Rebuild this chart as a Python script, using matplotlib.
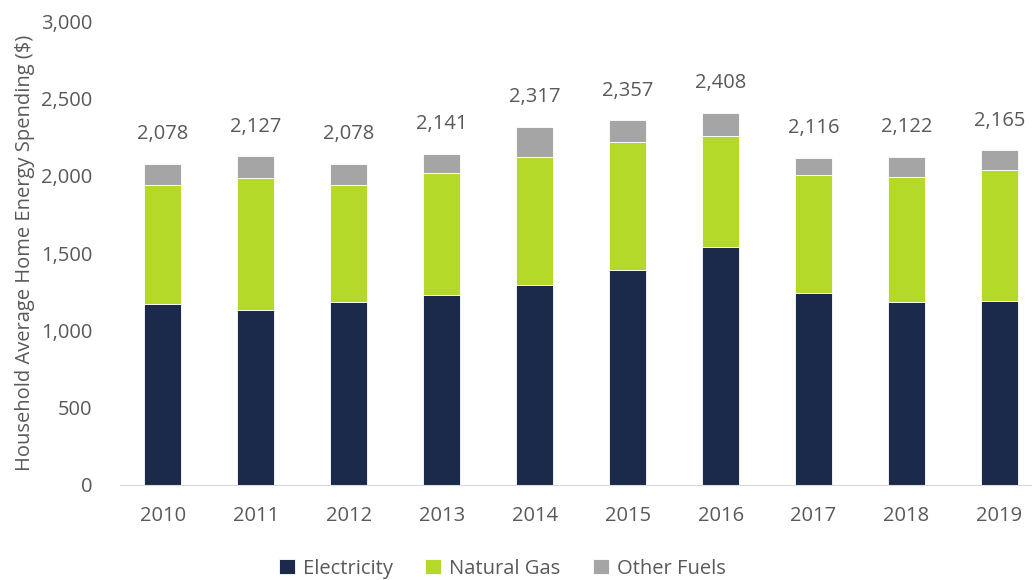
import matplotlib
matplotlib.use("Agg")
import matplotlib.pyplot as plt
from matplotlib.ticker import FuncFormatter

years = ["2010", "2011", "2012", "2013", "2014", "2015", "2016", "2017", "2018", "2019"]
electricity = [1170, 1131, 1183, 1228, 1293, 1390, 1539, 1243, 1185, 1192]
natural_gas = [770, 856, 757, 791, 826, 826, 719, 759, 804, 845]
other_fuels = [138, 140, 138, 122, 198, 141, 150, 114, 133, 128]
totals = [2078, 2127, 2078, 2141, 2317, 2357, 2408, 2116, 2122, 2165]

plt.rcParams['font.family'] = ['Open Sans', 'DejaVu Sans']
text_col = '#595959'
fs = 14.5

fig = plt.figure(figsize=(10.32, 5.8), dpi=100)
ax = fig.add_axes([120 / 1032, 95 / 580, 912 / 1032, 464 / 580])

x = list(range(len(years)))
w = 0.4
gas_base = electricity
other_base = [e + g for e, g in zip(electricity, natural_gas)]

ax.bar(x, electricity, w, color='#1B2A4A', edgecolor='white', linewidth=0.6, label='Electricity')
ax.bar(x, natural_gas, w, bottom=gas_base, color='#B5D928', edgecolor='white', linewidth=0.6, label='Natural Gas')
ax.bar(x, other_fuels, w, bottom=other_base, color='#A5A5A5', edgecolor='white', linewidth=0.6, label='Other Fuels')

# totals above each stack
for xi, t, top in zip(x, totals, [b + o for b, o in zip(other_base, other_fuels)]):
    ax.annotate(f"{t:,}", (xi, top), xytext=(0, 14), textcoords='offset points',
                ha='center', va='bottom', fontsize=fs, color=text_col)

ax.set_xlim(-0.46, 9.35)
ax.set_ylim(0, 3000)
ax.set_yticks(range(0, 3001, 500))
ax.yaxis.set_major_formatter(FuncFormatter(lambda v, p: f"{int(v):,}"))
ax.set_xticks(x)
ax.set_xticklabels(years)
ax.tick_params(axis='both', length=0, labelsize=fs, colors=text_col)
ax.tick_params(axis='x', pad=15)
ax.tick_params(axis='y', pad=20)

for s in ['top', 'right', 'left']:
    ax.spines[s].set_visible(False)
ax.spines['bottom'].set_color('#D9D9D9')

ax.set_ylabel("Household Average Home Energy Spending ($)", fontsize=fs, color=text_col, labelpad=4)

ax.legend(loc='lower center', bbox_to_anchor=(0.419, -0.232), ncol=3, frameon=False,
          fontsize=fs, labelcolor=text_col, handlelength=0.8, handleheight=0.8,
          columnspacing=1.6, handletextpad=0.4, borderpad=0.2)

fig.savefig("out.png", dpi=100)
